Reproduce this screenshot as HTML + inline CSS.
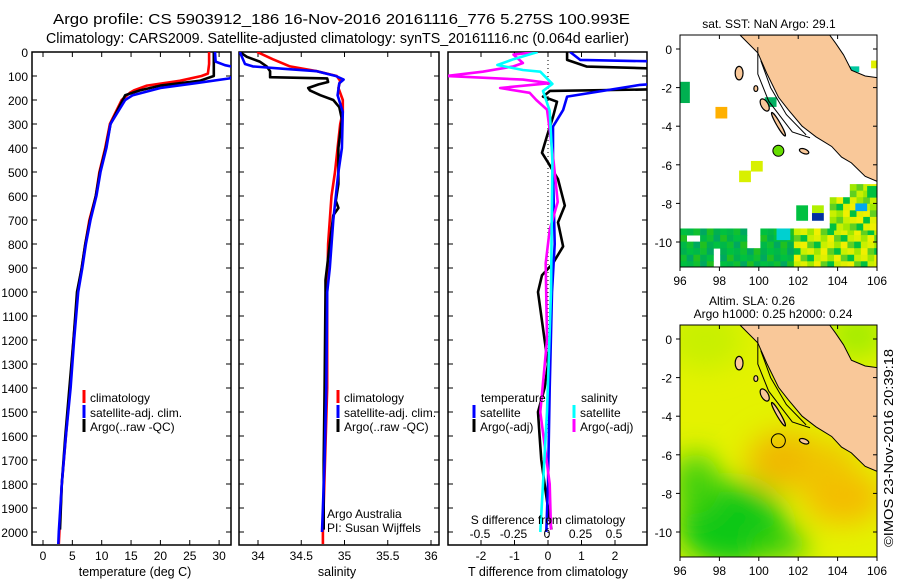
<!DOCTYPE html>
<html><head><meta charset="utf-8">
<style>
html,body{margin:0;padding:0;background:#fff;}
svg{display:block;font-family:"Liberation Sans",sans-serif;}
</style></head>
<body>
<svg id="fig" width="900" height="580" viewBox="0 0 900 580" xmlns="http://www.w3.org/2000/svg">
<defs>
<clipPath id="c1"><rect x="32" y="52" width="199" height="493"/></clipPath>
<clipPath id="c2"><rect x="239" y="52" width="200" height="493"/></clipPath>
<clipPath id="c3"><rect x="448" y="52" width="199" height="493"/></clipPath>
<clipPath id="cm1"><rect x="680" y="35" width="197" height="232"/></clipPath>
<clipPath id="cm2"><rect x="680" y="325" width="197" height="232"/></clipPath>
<filter id="blur" x="-50%" y="-50%" width="200%" height="200%"><feGaussianBlur stdDeviation="14"/></filter>
</defs>
<text x="53" y="24" font-size="14.5" textLength="577" lengthAdjust="spacingAndGlyphs">Argo profile: CS 5903912_186 16-Nov-2016 20161116_776 5.275S 100.993E</text>
<text x="46" y="43" font-size="14.5" textLength="583" lengthAdjust="spacingAndGlyphs">Climatology: CARS2009. Satellite-adjusted climatology: synTS_20161116.nc (0.064d earlier)</text>
<g id="panels"></g>
<g id="maps"></g>
<text transform="translate(893,547) rotate(-90)" font-size="12.5" textLength="198" lengthAdjust="spacingAndGlyphs">©IMOS 23-Nov-2016 20:39:18</text>
</svg>
<script>
// ---- data ----
const tClimDep=[0,50,90,100,120,140,160,170,200,300,400,500,600,700,800,900,1000,1200,1400,1600,1800,2000,2050];
const tClim=[28.3,28.3,28.1,27,23.3,17.7,15.5,14.8,13.4,11.4,10.6,9.6,9.0,7.9,7.2,6.6,5.9,5.2,4.6,3.9,3.2,2.8,2.7];
const tSatDep=[0,40,55,70,110,130,150,180,200,300,400,500,600,700,800,900,1000,1200,1400,1600,1800,2000,2050];
const tSat=[29.3,29.4,31,34,31.8,26,20,15.3,14,11.5,10.8,9.8,9.1,8.1,7.3,6.7,6.0,5.3,4.7,3.9,3.2,2.7,2.6];
const tArgoDep=[0,100,120,140,160,180,200,300,400,500,600,700,800,900,1000,1200,1400,1600,1800,1990];
const tArgo=[29.1,29.1,26.7,20,16.5,14,13.6,11.5,10.7,9.7,9.0,8.0,7.2,6.6,5.8,5.2,4.5,3.8,3.2,2.9];
const sClimDep=[0,30,60,80,100,120,150,200,250,300,400,500,600,700,800,1000,1400,2000,2050];
const sClim=[33.99,34.17,34.37,34.68,34.91,34.95,34.93,34.98,34.98,34.95,34.92,34.89,34.85,34.83,34.81,34.80,34.80,34.75,34.75];
const sSatDep=[0,50,60,70,80,100,115,130,180,250,400,500,700,900,1000,1400,1700,1900,2000];
const sSat=[33.79,33.85,33.94,34.3,34.68,34.9,34.99,34.94,34.92,34.98,34.97,34.93,34.87,34.83,34.8,34.79,34.77,34.75,34.74];
const sArgoDep=[0,20,40,60,80,105,110,125,135,150,160,180,200,230,280,400,550,620,650,680,800,950,1000,1400,1700,1990];
const sArgo=[33.79,33.87,34.02,34.1,34.14,34.14,34.8,34.81,34.7,34.58,34.6,34.72,34.87,34.94,34.97,34.93,34.93,34.9,34.93,34.87,34.83,34.78,34.78,34.77,34.76,34.76];
const dtSatDep=[0,33,40,130,137,186,242,311,500,800,1000,1400,1800,2000];
const dtSat=[0.66,0.96,3.5,3.5,2.75,0.57,0.45,0.15,0.15,0.2,0.12,0.05,0.0,-0.05];
const dtArgoDep=[0,33,61,70,155,162,186,207,270,350,420,460,530,640,710,810,880,930,1000,1100,1200,1300,1400,1500,1600,1700,1800,1900,1990];
const dtArgo=[0.57,0.57,1.16,3.5,3.5,0.06,-0.15,0.27,0.15,-0.03,-0.18,0,0.3,0.5,0.3,0.45,0.15,-0.18,-0.3,-0.2,-0.1,0,-0.1,-0.3,-0.25,-0.2,-0.1,0,0.1];
const dsSatDep=[0,30,54,75,82,133,162,245,454,1000,1500,1800,2000];
const dsSat=[-0.07,-0.25,-0.37,-0.18,-0.05,0.04,-0.03,0.02,0.04,0.03,0.0,-0.03,-0.05];
const dsArgoDep=[0,11,46,60,82,100,115,130,150,170,200,240,325,460,625,740,880,1200,1500,1800,1990];
const dsArgo=[-0.07,-0.25,-0.18,-0.25,-0.48,-0.75,-0.18,0.02,-0.35,-0.13,-0.08,0,0.02,0.05,0.08,0.02,-0.01,0.0,-0.05,0.02,0.03];
const depthTicks=[0,100,200,300,400,500,600,700,800,900,1000,1100,1200,1300,1400,1500,1600,1700,1800,1900,2000];
const tTicks=[0,5,10,15,20,25,30];
const sTicks=[34,34.5,35,35.5,36];
const dtTicks=[-2,-1,0,1,2];
const dsTicks=[-0.5,-0.25,0,0.25,0.5];

const NS="http://www.w3.org/2000/svg";
function el(tag,attrs,parent,txt){const e=document.createElementNS(NS,tag);for(const k in attrs)e.setAttribute(k,attrs[k]);if(txt!==undefined)e.textContent=txt;parent.appendChild(e);return e;}
const yD=d=>52+d*0.24;
const xT=v=>43+v*5.87;
const xS=v=>258+(v-34)*86.5;
const xDT=v=>548+v*33.5;
const xDS=v=>547+v*134;
const P=document.getElementById('panels');

function frame(x0,w,name){
  const r=el('rect',{x:x0,y:52,width:w,height:493,fill:'none',stroke:'#000','stroke-width':1.5},P);
  
  
  depthTicks.forEach(d=>{const y=yD(d);
    el('line',{x1:x0,x2:x0+5,y1:y,y2:y,stroke:'#000'},P);
    el('line',{x1:x0+w-5,x2:x0+w,y1:y,y2:y,stroke:'#000'},P);});
}
function xticks(vals,fx,lab,top){
  vals.forEach(v=>{const x=fx(v);
    el('line',{x1:x,x2:x,y1:545,y2:540,stroke:'#000'},P);
    if(top)el('line',{x1:x,x2:x,y1:52,y2:57,stroke:'#000'},P);
    if(lab){const t=el('text',{x:x,y:560,'font-size':12,'text-anchor':'middle'},P,String(v));
      
      }});
}
function line(deps,vals,fx,col,clip,name){
  const pts=deps.map((d,i)=>fx(vals[i]).toFixed(1)+','+yD(d).toFixed(1)).join(' ');
  const p=el('polyline',{points:pts,fill:'none',stroke:col,'stroke-width':2.6,'stroke-linejoin':'round','clip-path':'url(#'+clip+')'},P);
  
  
}
function legend(x,y,col,label,name){
  el('rect',{x:x-1.5,y:y-7,width:3,height:13,fill:col},P);
  const t=el('text',{x:x+6,y:y+5,'font-size':12},P,label);
  
  
}
depthTicks.forEach(d=>{const t=el('text',{x:28,y:yD(d)+5,'font-size':12,'text-anchor':'end'},P,String(d));
  
  });

// panel 1
frame(32,199,'temperature-panel');
xticks(tTicks,xT,true,true);
line(tClimDep,tClim,xT,'#f00','c1','temp-climatology-line');
line(tArgoDep,tArgo,xT,'#000','c1','temp-argo-line');
line(tSatDep,tSat,xT,'#00f','c1','temp-satellite-line');
legend(84,397,'#f00','climatology','legend-climatology');
legend(84,412,'#00f','satellite-adj. clim.','legend-satellite');
legend(84,426,'#000','Argo(..raw -QC)','legend-argo');
let t=el('text',{x:135,y:576,'font-size':12.5,'text-anchor':'middle'},P,'temperature (deg C)');



// panel 2
frame(239,200,'salinity-panel');
xticks(sTicks,xS,true,true);
line(sClimDep,sClim,xS,'#f00','c2','sal-climatology-line');
line(sArgoDep,sArgo,xS,'#000','c2','sal-argo-line');
line(sSatDep,sSat,xS,'#00f','c2','sal-satellite-line');
legend(338,397,'#f00','climatology','legend-climatology-2');
legend(338,412,'#00f','satellite-adj. clim.','legend-satellite-2');
legend(338,426,'#000','Argo(..raw -QC)','legend-argo-2');
t=el('text',{x:327,y:518,'font-size':12},P,'Argo Australia');


t=el('text',{x:327,y:532,'font-size':12},P,'PI: Susan Wijffels');


t=el('text',{x:337,y:576,'font-size':12.5,'text-anchor':'middle'},P,'salinity');



// panel 3
frame(448,199,'difference-panel');
xticks(dtTicks,xDT,true,true);
el('line',{x1:548,x2:548,y1:52,y2:545,stroke:'#000','stroke-dasharray':'1,3'},P);
line(dtArgoDep,dtArgo,xDT,'#000','c3','dT-argo-line');
line(dtSatDep,dtSat,xDT,'#00f','c3','dT-satellite-line');
line(dsArgoDep,dsArgo,xDS,'#f0f','c3','dS-argo-line');
line(dsSatDep,dsSat,xDS,'#0ff','c3','dS-satellite-line');
t=el('text',{x:481,y:402,'font-size':12},P,'temperature');


t=el('text',{x:581,y:402,'font-size':12},P,'salinity');


legend(474,412,'#00f','satellite','legend-dT-satellite');
legend(474,426,'#000','Argo(-adj)','legend-dT-argo');
legend(574,412,'#0ff','satellite','legend-dS-satellite');
legend(574,426,'#f0f','Argo(-adj)','legend-dS-argo');
t=el('text',{x:548,y:524,'font-size':12,'text-anchor':'middle'},P,'S difference from climatology');


dsTicks.forEach(v=>{const tt=el('text',{x:xDS(v),y:538,'font-size':12,'text-anchor':'middle'},P,v===0?'0':String(v));
  
  });
t=el('text',{x:548,y:576,'font-size':12.5,'text-anchor':'middle'},P,'T difference from climatology');



// ---- maps ----
const M=document.getElementById('maps');
const mx=lon=>680+(lon-96)*19.7;
function mapFrame(top,name){
  const my=lat=>top+14-lat*19.3;
  const g=el('g',{},M);
  
  
  return {g,my};
}
const land=[[99.05,0.72],[99.95,-0.2],[100.4,-1.25],[101.0,-2.5],[101.5,-3.15],[102.2,-4.0],[102.9,-4.55],[103.7,-5.05],[104.2,-5.6],[104.7,-5.9],[105.4,-6.6],[106.1,-6.9],[106.1,-1.5],[105.4,-1.4],[104.7,-1.1],[104.3,-0.3],[103.9,0.3],[103.6,0.72]];
function drawLand(g,my,clip){
  el('polygon',{points:land.map(p=>mx(p[0])+','+my(p[1])).join(' '),fill:'#f9c899',stroke:'#000','stroke-width':1,'clip-path':'url(#'+clip+')'},g);
  el('polyline',{points:[[99.95,0.1],[99.95,-1.3],[100.5,-2.7],[101.7,-4.3],[102.6,-4.6]].map(p=>mx(p[0])+','+my(p[1])).join(' '),fill:'none',stroke:'#000','stroke-width':1},g);
  el('polyline',{points:[[100.1,-0.6],[100.6,-2.0],[101.4,-3.4],[102.4,-4.45]].map(p=>mx(p[0])+','+my(p[1])).join(' '),fill:'none',stroke:'#000','stroke-width':1},g);
  [[99.0,-1.25,0.2,0.35,0],[99.85,-2.05,0.1,0.15,0],[100.3,-2.9,0.18,0.35,-30],[101.0,-3.9,0.1,0.7,-30],[102.3,-5.3,0.25,0.12,20]].forEach(a=>
    el('ellipse',{cx:mx(a[0]),cy:my(a[1]),rx:a[2]*19.7,ry:a[3]*19.3,fill:'#f9c899',stroke:'#000','stroke-width':1.2,transform:'rotate('+a[4]+' '+mx(a[0])+' '+my(a[1])+')'},g));
}
function mapAxes(g,my,top){
  el('rect',{x:680,y:top,width:197,height:232,fill:'none',stroke:'#000','stroke-width':1},g);
  [96,98,100,102,104,106].forEach(l=>{const x=mx(l);
    el('line',{x1:x,x2:x,y1:top+232,y2:top+236,stroke:'#000'},g);
    el('line',{x1:x,x2:x,y1:top,y2:top+4,stroke:'#000'},g);
    const tt=el('text',{x:x,y:top+250,'font-size':12,'text-anchor':'middle'},g,String(l));
    
    });
  [0,-2,-4,-6,-8,-10].forEach(l=>{const y=my(l);
    el('line',{x1:676,x2:680,y1:y,y2:y,stroke:'#000'},g);
    el('line',{x1:873,x2:877,y1:y,y2:y,stroke:'#000'},g);
    const tt=el('text',{x:672,y:y+5,'font-size':12,'text-anchor':'end'},g,String(l));
    
    });
}
// Map 1: SST
let m1=mapFrame(35,'sst-map');
const g1=el('g',{'clip-path':'url(#cm1)'},m1.g);
el('rect',{x:680,y:35,width:197,height:232,fill:'#fff'},g1);
const greens=['#00b050','#00c040','#00b848','#10c030','#00a860','#20c020'];
const yellows=['#c8f000','#e0f000','#a0e800','#f0f000','#60d020','#00c040'];
for(let lon=96;lon<106.2;lon+=0.34){for(let lat=-9.3;lat>-11.4;lat-=0.34){
  const i=Math.round(lon*3+lat*7);
  if(lon<101.6&&((lon>99.4&&lon<99.9&&lat>-10)||(lon>97.4&&lon<97.9&&lat<-10.2)||(lon>96.2&&lon<97&&lat>-9.8&&lat<-9.3)))continue;
  const col=lon<101.6?greens[Math.abs(i)%6]:yellows[Math.abs(i*7)%6];
  el('rect',{x:mx(lon),y:m1.my(lat),width:7,height:7,fill:col},g1);}}
for(let lon=103.6;lon<106.2;lon+=0.34){for(let lat=-7;lat>-9.3;lat-=0.34){
  if(lat>-7.6&&lon<104.4)continue;
  const i=Math.round(lon*5+lat*11);
  el('rect',{x:mx(lon),y:m1.my(lat),width:7,height:7,fill:yellows[Math.abs(i)%6]},g1);}}
[[96,-1.7,0.5,1.1,'#00b050'],[97.8,-3.0,0.6,0.6,'#ffb000'],[100.3,-2.5,0.6,0.5,'#00b060'],[99.6,-5.8,0.6,0.55,'#d8f000'],[99,-6.3,0.6,0.6,'#d8f000'],[101.9,-8.1,0.6,0.8,'#00c040'],[102.7,-8.1,0.6,0.4,'#b0f000'],[102.7,-8.5,0.6,0.4,'#0030a0'],[104.9,-8.0,0.6,0.4,'#00a8f0'],[105.5,-7.1,0.6,0.6,'#00c040'],[104.5,-0.9,0.6,-0.3,'#00c8a0'],[105.7,-0.6,0.5,-0.4,'#e0f000'],[100.9,-9.3,0.7,0.6,'#00d0d0']].forEach(a=>
  el('rect',{x:mx(a[0]),y:m1.my(a[1]),width:a[2]*19.7,height:Math.abs(a[3])*19.3,fill:a[4]},g1));
drawLand(g1,m1.my,'cm1');
el('circle',{cx:mx(100.993),cy:m1.my(-5.275),r:5.5,fill:'#66dd00',stroke:'#000','stroke-width':1},g1);
mapAxes(m1.g,m1.my,35);
t=el('text',{x:769,y:28,'font-size':12,'text-anchor':'middle'},m1.g,'sat. SST: NaN Argo: 29.1');



// Map 2: SLA
let m2=mapFrame(325,'sla-map');
const g2=el('g',{'clip-path':'url(#cm2)'},m2.g);
el('rect',{x:680,y:325,width:197,height:232,fill:'#e4f200'},g2);
const gb=el('g',{filter:'url(#blur)'},g2);
[[97.3,0.0,2.0,1.6,'#c8f000'],[101.4,-6.3,2.0,1.5,'#f0b800'],[104.3,-8.2,2.0,1.4,'#f4bc00'],[103.5,-6.5,1.4,1.2,'#f0c400'],[98.6,-9.6,2.8,2.2,'#10c818'],[96.8,-7.5,1.2,1.6,'#40d010'],[101.0,-10.6,1.5,0.8,'#30cc10'],[105,0.2,1.5,1.2,'#a0ec00']].forEach(a=>
  el('ellipse',{cx:mx(a[0]),cy:m2.my(a[1]),rx:a[2]*19.7,ry:a[3]*19.3,fill:a[4]},gb));
drawLand(g2,m2.my,'cm2');
el('circle',{cx:mx(100.993),cy:m2.my(-5.275),r:7,fill:'none',stroke:'#000','stroke-width':1},g2);
mapAxes(m2.g,m2.my,325);
t=el('text',{x:752,y:305,'font-size':12,'text-anchor':'middle'},m2.g,'Altim. SLA: 0.26');


t=el('text',{x:773,y:318,'font-size':12,'text-anchor':'middle'},m2.g,'Argo h1000: 0.25 h2000: 0.24');


</script>
</body></html>
